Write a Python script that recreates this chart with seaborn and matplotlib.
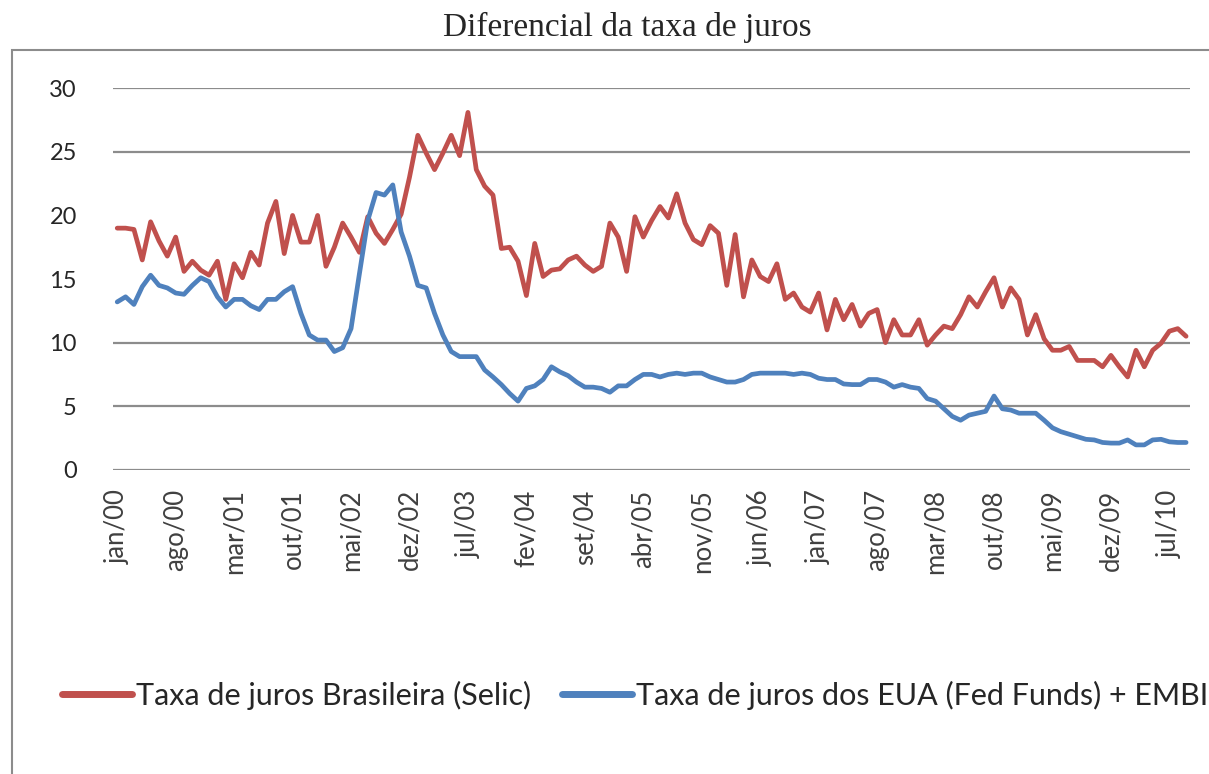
import pandas as pd
import matplotlib.pyplot as plt
import matplotlib.patches as mpatches
import seaborn as sns

sns.set_theme(style="white")
plt.rcParams['font.family'] = ['Lato', 'DejaVu Sans']

# valores mensais jan/00 .. set/10
selic = [19.0, 19.0, 18.9, 16.5, 19.5, 18.0, 16.8, 18.3, 15.6, 16.4,
         15.7, 15.3, 16.4, 13.4, 16.2, 15.1, 17.1, 16.1, 19.4, 21.1,
         17.0, 20.0, 17.9, 17.9, 20.0, 16.0, 17.5, 19.4, 18.3, 17.1,
         19.9, 18.6, 17.8, 18.9, 20.1, 23.0, 26.3, 24.9, 23.6, 24.9,
         26.3, 24.7, 28.1, 23.6, 22.3, 21.6, 17.4, 17.5, 16.4, 13.7,
         17.8, 15.2, 15.7, 15.8, 16.5, 16.8, 16.1, 15.6, 16.0, 19.4,
         18.3, 15.6, 19.9, 18.3, 19.6, 20.7, 19.8, 21.7, 19.4, 18.1,
         17.7, 19.2, 18.6, 14.5, 18.5, 13.6, 16.5, 15.2, 14.8, 16.2,
         13.4, 13.9, 12.8, 12.4, 13.9, 11.0, 13.4, 11.8, 13.0, 11.3,
         12.3, 12.6, 10.0, 11.8, 10.6, 10.6, 11.8, 9.8, 10.6, 11.3,
         11.1, 12.2, 13.6, 12.8, 14.0, 15.1, 12.8, 14.3, 13.4, 10.6,
         12.2, 10.3, 9.4, 9.4, 9.7, 8.6, 8.6, 8.6, 8.1, 9.0,
         8.1, 7.3, 9.4, 8.1, 9.4, 9.95, 10.9, 11.1, 10.5]

eua_embi = [13.2, 13.6, 13.0, 14.4, 15.3, 14.5, 14.3, 13.9, 13.8, 14.5,
            15.1, 14.8, 13.6, 12.8, 13.4, 13.4, 12.9, 12.6, 13.4, 13.4,
            14.0, 14.4, 12.3, 10.6, 10.2, 10.2, 9.3, 9.6, 11.1, 15.4,
            19.6, 21.8, 21.6, 22.4, 18.7, 16.8, 14.5, 14.3, 12.3, 10.6,
            9.3, 8.9, 8.9, 8.9, 7.85, 7.3, 6.7, 6.0, 5.4, 6.4,
            6.6, 7.1, 8.1, 7.7, 7.4, 6.9, 6.5, 6.5, 6.4, 6.1,
            6.6, 6.6, 7.1, 7.5, 7.5, 7.3, 7.5, 7.6, 7.5, 7.6,
            7.6, 7.3, 7.1, 6.9, 6.9, 7.1, 7.5, 7.6, 7.6, 7.6,
            7.6, 7.5, 7.6, 7.5, 7.2, 7.1, 7.1, 6.75, 6.7, 6.7,
            7.1, 7.1, 6.9, 6.5, 6.7, 6.5, 6.4, 5.6, 5.4, 4.8,
            4.2, 3.9, 4.3, 4.45, 4.6, 5.8, 4.8, 4.7, 4.45, 4.45,
            4.45, 3.9, 3.3, 3.0, 2.8, 2.6, 2.4, 2.35, 2.15, 2.1,
            2.1, 2.35, 1.96, 1.96, 2.35, 2.4, 2.2, 2.15, 2.15]

tick_labels = ['jan/00', 'ago/00', 'mar/01', 'out/01', 'mai/02', 'dez/02',
               'jul/03', 'fev/04', 'set/04', 'abr/05', 'nov/05', 'jun/06',
               'jan/07', 'ago/07', 'mar/08', 'out/08', 'mai/09', 'dez/09',
               'jul/10']
y_ticks = [0, 5, 10, 15, 20, 25, 30]
# no original as linhas de grade de 15 e 20 não aparecem
grid_levels = [0, 5, 10, 25, 30]

nome_selic = 'Taxa de juros Brasileira (Selic)'
nome_eua = 'Taxa de juros dos EUA (Fed Funds) + EMBI'

mes = list(range(len(selic)))
df = pd.DataFrame({'mes': mes, nome_selic: selic, nome_eua: eua_embi})
df = df.melt(id_vars='mes', var_name='serie', value_name='taxa')

fig = plt.figure(figsize=(12.09, 7.74), dpi=100)
ax = fig.add_axes([0.0935, 0.393, 0.891, 0.493])

for g in grid_levels:
    ax.axhline(g, color='#8c8c8c', linewidth=1.6, zorder=0)

sns.lineplot(data=df, x='mes', y='taxa', hue='serie', ax=ax,
             palette=['#C0504D', '#4F81BD'], linewidth=3.4, legend=True)

ax.set_xlim(-0.5, len(selic) - 0.5)
ax.set_ylim(0, 30)
ax.set_yticks(y_ticks)
ax.grid(False)
ax.set_xticks(list(range(0, len(selic), 7)))
ax.set_xticklabels(tick_labels, rotation=90)
ax.tick_params(axis='y', length=0, pad=26, labelsize=17, labelcolor='#262626')
ax.tick_params(axis='x', length=0, pad=14, labelsize=18.5, labelcolor='#404040')
ax.set_xlabel('')
ax.set_ylabel('')
for s in ax.spines.values():
    s.set_visible(False)

handles, labels = ax.get_legend_handles_labels()
ax.legend(handles, labels, loc='center left',
          bbox_to_anchor=(0.051, 1 - 695 / 774), bbox_transform=fig.transFigure,
          ncol=2, frameon=False, fontsize=22, handlelength=2.3,
          handletextpad=0.13, columnspacing=1.0, borderaxespad=0, borderpad=0)
for line in ax.get_legend().get_lines():
    line.set_linewidth(5)

fig.text(0.519, 1 - 27 / 774, 'Diferencial da taxa de juros',
         ha='center', va='center', fontsize=24, family='Liberation Serif')

# moldura da área do gráfico
fig.patches.append(mpatches.Rectangle((12 / 1209, -0.05), 1.2, 0.05 + 1 - 50 / 774,
                                      transform=fig.transFigure, fill=False,
                                      edgecolor='#8c8c8c', linewidth=1.5))

fig.savefig('out.png', dpi=100)
